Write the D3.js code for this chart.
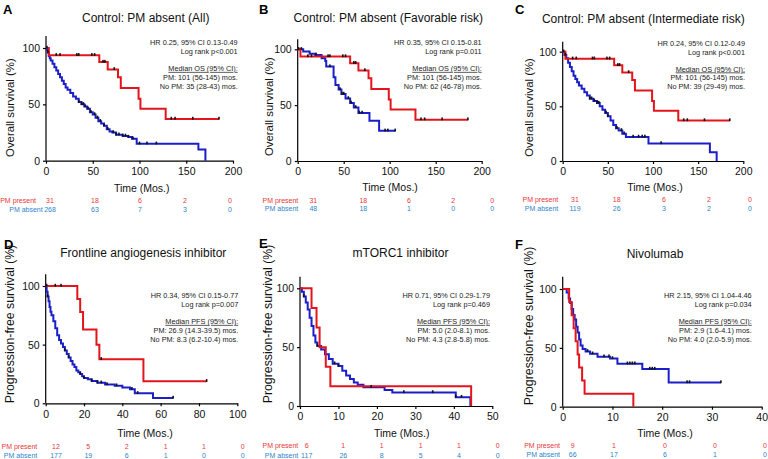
<!DOCTYPE html>
<html>
<head>
<meta charset="utf-8">
<script src="https://cdn.jsdelivr.net/npm/d3@7"></script>
<style>
  body { margin: 0; background: #fff; }
  svg { display: block; font-family: "Liberation Sans", Arial, Helvetica, sans-serif; }
</style>
</head>
<body>
<svg id="canvas"></svg>
<script>
// ---- data: Kaplan-Meier steps [time, survival %], last time, censor times ----
// OS, PM present (same group in A, B, C)
let osPresent = [[0,100],[3,93.5],[57,87.5],[66,81],[77,74],[80,64.5],[99,55],[101,46],[128,37]];
let osPresentEnd = 185;
let osPresentCens = [1,11,15,33,35,49,52,61,63,73,134,138,157,185];

// OS, PM absent (All)
let osAbsentAll = [[0,100],[1,98],[2,96],[3,93],[4,91],[5,89],[7,86],[9,83],[11,80],[13,77],[15,74],[17,71],[19,68],[21,65],[23,63],[26,60],[29,57],[32,55],[35,52],[38,50],[41,48],[44,46],[47,43],[50,41],[53,38],[56,35],[59,33],[62,31],[65,28],[68,26],[71,25],[75,23],[82,22],[88,21],[92,19.5],[97,15],[163,10],[170.5,0]];
let osAbsentAllEnd = 170.5;
let osAbsentAllCens = [2,35,38,40,42,45,48,52,55,58,62,66,72,75,78,82,85,88,93,100,108,118];

// OS, PM absent (Favorable)
let osAbsentFav = [[0,100],[6,98],[13,96],[19,95],[26,92],[30,89.5],[31,84.5],[39,75],[41,68],[44.5,64],[47.5,60],[52,56],[57,52],[61,48],[66,43],[78,36],[88.5,27]];
let osAbsentFavEnd = 106;
let osAbsentFavCens = [4,20,35,46,48,50,55,58,63,67,70,95,98,106];

// OS, PM absent (Intermediate)
let osAbsentInt = [[0,100],[2,97],[4,94],[6,90],[8,86],[10,82],[12,78],[14,75],[16,72],[18,69],[21,66],[24,63],[27,60],[30,57],[34,55],[38,53],[41,50],[44,47],[47,44],[50,41],[53,37],[56,33],[59,30],[62,28],[66,25],[70,22],[95,16],[163,8],[170.5,0]];
let osAbsentIntEnd = 170.5;
let osAbsentIntCens = [3,30,32,35,38,40,48,50,60,65,68,78,84,88,91,109];

// PFS, frontline angiogenesis inhibitor
let pfsPresentD = [[0,100],[16.5,88.9],[18,77.8],[19.5,63],[26.5,50],[28,37.5],[51,18.75]];
let pfsPresentDEnd = 84;
let pfsPresentDCens = [0.5,5,8,29,84];
let pfsAbsentD = [[0,100],[0.5,95],[1,91],[1.5,87],[2,82],[2.5,78],[3,75],[4,70],[5,64],[6,58],[7,54],[8,51],[9,48],[10,45],[11,42],[12,39],[13,36],[14,33],[15,31],[16,28],[17,26.5],[18,25],[19,23],[20,21.5],[22,20.5],[24,19],[27,17.5],[31,16],[36,15],[40,13.5],[44,12],[46.5,8.5],[56,4.5]];
let pfsAbsentDEnd = 66.5;
let pfsAbsentDCens = [1,10,12,18,20,24,27,29,32,37,45,48,66.5];

// PFS, mTORC1 inhibitor
let pfsPresentE = [[0,100],[3,83.3],[4.3,66.7],[5.1,50],[6.7,33.3],[7.9,16.7],[44.5,0]];
let pfsPresentEEnd = 44.5;
let pfsPresentECens = [];
let pfsAbsentE = [[0,100],[0.5,97],[1,93],[1.5,88],[2,82],[2.5,75],[3,68],[3.5,60],[4,54],[4.5,51],[5.5,48],[6.5,44],[7.5,40],[8.5,36],[10,34],[11,30],[12,26],[13,23],[14,20],[15,18],[16.5,16],[22,13.5],[24,11.5],[40.5,7.5],[44.3,0]];
let pfsAbsentEEnd = 44.3;
let pfsAbsentECens = [1,4.5,9,10,18.5,27,34.5,40.5,42];

// PFS, nivolumab
let pfsPresentF = [[0,100],[1.3,88.9],[1.8,77.8],[2.2,66.7],[2.6,55.6],[3,44.4],[3.3,33.3],[3.9,22.2],[4.4,11.1],[14.2,0]];
let pfsPresentFEnd = 14.2;
let pfsPresentFCens = [];
let pfsAbsentF = [[0,100],[0.8,97],[1.2,92],[1.5,88],[1.8,83],[2.1,78],[2.4,74],[2.7,68],[3,63],[3.3,57],[3.6,52],[4,49],[4.6,47],[5.5,45],[7,42.5],[9.5,41],[11,36.5],[16,32],[21.3,20.5]];
let pfsAbsentFEnd = 31.8;
let pfsAbsentFCens = [5,6,8.3,9.3,10,13,13.5,14,14.5,17.5,18,18.5,25,25.5,31.8];

// axis ticks
let xTicksOS = [0,50,100,150,200];
let xTicksD = [0,20,40,60,80,100];
let xTicksE = [0,10,20,30,40,50];
let xTicksF = [0,10,20,30,40];
let yTicks = [0,50,100];

// numbers at risk
let riskPresentOS = [31,18,6,2,0];
let riskAbsentA = [268,63,7,3,0];
let riskAbsentB = [48,18,1,0,0];
let riskAbsentC = [119,26,3,2,0];
let riskPresentD = [12,5,2,1,1,0];
let riskAbsentD = [177,19,6,1,0,0];
let riskPresentE = [6,1,1,1,1,0];
let riskAbsentE = [117,26,8,5,4,0];
let riskPresentF = [9,1,0,0,0];
let riskAbsentF = [66,17,6,1,0];

// texts
let titles = ["Control: PM absent (All)","Control: PM absent (Favorable risk)","Control: PM absent (Intermediate risk)","Frontline angiogenesis inhibitor","mTORC1 inhibitor","Nivolumab"];
let letters = ["A","B","C","D","E","F"];
let yLabels = ["Overall survival (%)","Progression-free survival (%)"];
let notes = [
  ["HR 0.25, 95% CI 0.13-0.49","Log rank p<0.001","Median OS (95% CI):","PM: 101 (56-145) mos.","No PM: 35 (28-43) mos."],
  ["HR 0.35, 95% CI 0.15-0.81","Log rank p=0.011","Median OS (95% CI):","PM: 101 (56-145) mos.","No PM: 62 (46-78) mos."],
  ["HR 0.24, 95% CI 0.12-0.49","Log rank p<0.001","Median OS (95% CI):","PM: 101 (56-145) mos.","No PM: 39 (29-49) mos."],
  ["HR 0.34, 95% CI 0.15-0.77","Log rank p=0.007","Median PFS (95% CI):","PM: 26.9 (14.3-39.5) mos.","No PM: 8.3 (6.2-10.4) mos."],
  ["HR 0.71, 95% CI 0.29-1.79","Log rank p=0.469","Median PFS (95% CI):","PM: 5.0 (2.0-8.1) mos.","No PM: 4.3 (2.8-5.8) mos."],
  ["HR 2.15, 95% CI 1.04-4.46","Log rank p=0.034","Median PFS (95% CI):","PM: 2.9 (1.6-4.1) mos.","No PM: 4.0 (2.0-5.9) mos."]
];

// ---- layout ----
let width = 768, height = 459;
let red = "#e3151c", blue = "#1a1fc8";
let redText = "#e8373b", blueText = "#2f84cc";

let panels = [
  {x0:46, x1:233, y100:48, y0:160.7, axTop:36, xMax:200, ticks:xTicksOS,
   title:[145.7,18], letter:[3,13.5], yl:[9.5,107.6,0], xl:[141.7,188], note:[237.7,42.7],
   labR:[36,42.7], cols:[50,95,140,185,230], rows:[200,209.3],
   red:[osPresent,osPresentEnd,osPresentCens], blue:[osAbsentAll,osAbsentAllEnd,osAbsentAllCens],
   rp:riskPresentOS, ra:riskAbsentA},
  {x0:297.7, x1:481.7, y100:49.3, y0:161, axTop:39.3, xMax:200, ticks:xTicksOS,
   title:[388.3,17.3], letter:[259,13.5], yl:[269,106.7,0], xl:[390,187.7], note:[481.7,42.7],
   labR:[298.3,298.3], cols:[313.3,363.3,409,453.3,492.3], rows:[200,208.3],
   red:[osPresent,osPresentEnd,osPresentCens], blue:[osAbsentFav,osAbsentFavEnd,osAbsentFavCens],
   rp:riskPresentOS, ra:riskAbsentB},
  {x0:562.7, x1:743.3, y100:51.7, y0:161, axTop:41.7, xMax:200, ticks:xTicksOS,
   title:[643.3,18.3], letter:[515,13.5], yl:[529,107.5,0], xl:[655,187.3], note:[745,43.3],
   labR:[558.3,558.3], cols:[575,616.7,664,709,750], rows:[199.3,208.3],
   red:[osPresent,osPresentEnd,osPresentCens], blue:[osAbsentInt,osAbsentIntEnd,osAbsentIntCens],
   rp:riskPresentOS, ra:riskAbsentC},
  {x0:45.7, x1:237.3, y100:286, y0:403.3, axTop:274.3, xMax:100, ticks:xTicksD,
   title:[143.3,252.3], letter:[4,249], yl:[9.5,324,1], xl:[145,433], note:[238.3,295.7],
   labR:[37.3,37.3], cols:[56,88.3,126.7,165.7,204,242.7], rows:[446.7,455],
   red:[pfsPresentD,pfsPresentDEnd,pfsPresentDCens], blue:[pfsAbsentD,pfsAbsentDEnd,pfsAbsentDCens],
   rp:riskPresentD, ra:riskAbsentD},
  {x0:300, x1:492.3, y100:288.3, y0:406, axTop:276.7, xMax:50, ticks:xTicksE,
   title:[400.5,252.3], letter:[259,248], yl:[268,324,1], xl:[401.7,433.3], note:[490,295.7],
   labR:[298.3,298.3], cols:[306.7,343.3,381.7,420.7,459,497.7], rows:[445.7,455],
   red:[pfsPresentE,pfsPresentEEnd,pfsPresentECens], blue:[pfsAbsentE,pfsAbsentEEnd,pfsAbsentECens],
   rp:riskPresentE, ra:riskAbsentE},
  {x0:562.7, x1:761.7, y100:289, y0:406.7, axTop:276.7, xMax:40, ticks:xTicksF,
   title:[655,253.3], letter:[515,249], yl:[529,326,1], xl:[665,433.3], note:[751.7,295.7],
   labR:[560,560], cols:[572.7,614,665,715,765], rows:[445,454.3],
   red:[pfsPresentF,pfsPresentFEnd,pfsPresentFCens], blue:[pfsAbsentF,pfsAbsentFEnd,pfsAbsentFCens],
   rp:riskPresentF, ra:riskAbsentF}
];

let canvas = d3.select("#canvas").attr("width", width).attr("height", height);

let survAt = (steps, t) => {
  let s = steps[0][1];
  steps.forEach((d) => { if (d[0] <= t) s = d[1]; });
  return s;
};

let drawCurve = (g, xs, ys, curve, color) => {
  let steps = curve[0], end = curve[1], cens = curve[2];
  let pts = steps.concat([[end, steps[steps.length - 1][1]]]);
  let line = d3.line().x((d) => xs(d[0])).y((d) => ys(d[1])).curve(d3.curveStepAfter);
  g.append("path").attr("d", line(pts)).attr("fill", "none")
    .attr("stroke", color).attr("stroke-width", 2).attr("stroke-linejoin", "miter");
  return cens.map((t) => [t, survAt(steps, t)]);
};

let drawPanel = (p, i) => {
  let g = canvas.append("g");
  let xs = d3.scaleLinear().domain([0, p.xMax]).range([p.x0, p.x1]);
  let ys = d3.scaleLinear().domain([0, 100]).range([p.y0, p.y100]);

  // axes
  g.append("line").attr("x1", p.x0).attr("x2", p.x0).attr("y1", p.axTop).attr("y2", p.y0)
    .attr("stroke", "#000").attr("stroke-width", 1.2);
  let xAxis = d3.axisBottom(xs).tickValues(p.ticks).tickSize(3).tickSizeOuter(0).tickPadding(4);
  let yAxis = d3.axisLeft(ys).tickValues(yTicks).tickSize(3).tickSizeOuter(0).tickPadding(3);
  let gx = g.append("g").attr("transform", "translate(0," + p.y0 + ")").call(xAxis);
  let gy = g.append("g").attr("transform", "translate(" + p.x0 + ",0)").call(yAxis);
  [gx, gy].forEach((a) => {
    a.select(".domain").attr("stroke-width", 1.2);
    a.selectAll(".tick line").attr("stroke-width", 1.2);
    a.selectAll("text").attr("font-size", 10.5).attr("font-family", "Liberation Sans, Arial, sans-serif").attr("fill", "#111");
  });
  gy.select(".domain").remove();

  // curves
  let cb = drawCurve(g, xs, ys, p.blue, blue);
  let cr = drawCurve(g, xs, ys, p.red, red);
  cb.concat(cr).forEach((d) => {
    g.append("rect").attr("x", xs(d[0]) - 0.8).attr("y", ys(d[1]) - 2.2)
      .attr("width", 1.6).attr("height", 2.8).attr("fill", "#111");
  });

  // texts
  g.append("text").attr("x", p.title[0]).attr("y", p.title[1] + 4.3).attr("text-anchor", "middle")
    .attr("font-size", 12).attr("fill", "#111").text(titles[i]);
  g.append("text").attr("x", p.letter[0]).attr("y", p.letter[1]).attr("font-size", 13)
    .attr("font-weight", "bold").attr("fill", "#000").text(letters[i]);
  g.append("text").attr("transform", "translate(" + (p.yl[0] + 4) + "," + p.yl[1] + ") rotate(-90)")
    .attr("text-anchor", "middle").attr("font-size", p.yl[2] ? 12.3 : 11.4).attr("fill", "#111")
    .text(yLabels[p.yl[2]]);
  g.append("text").attr("x", p.xl[0]).attr("y", p.xl[1] + 3.7).attr("text-anchor", "middle")
    .attr("font-size", 10.5).attr("fill", "#111").text("Time (Mos.)");

  let offs = [0, 9, 25.6, 34.4, 43.2];
  notes[i].forEach((t, k) => {
    g.append("text").attr("x", p.note[0]).attr("y", p.note[1] + offs[k] + 2.6)
      .attr("text-anchor", "end").attr("font-size", 7.3).attr("fill", "#222")
      .style("text-decoration", k === 2 ? "underline" : "none").text(t);
  });

  // numbers at risk
  [["PM present", p.rp, redText], ["PM absent", p.ra, blueText]].forEach((r, k) => {
    let y = p.rows[k] + 2.5;
    g.append("text").attr("x", p.labR[k]).attr("y", y).attr("text-anchor", "end")
      .attr("font-size", 7).attr("fill", r[2]).text(r[0]);
    r[1].forEach((v, j) => {
      g.append("text").attr("x", p.cols[j]).attr("y", y).attr("text-anchor", "middle")
        .attr("font-size", 7).attr("fill", r[2]).text(v);
    });
  });
};

panels.forEach(drawPanel);
</script>
</body>
</html>
